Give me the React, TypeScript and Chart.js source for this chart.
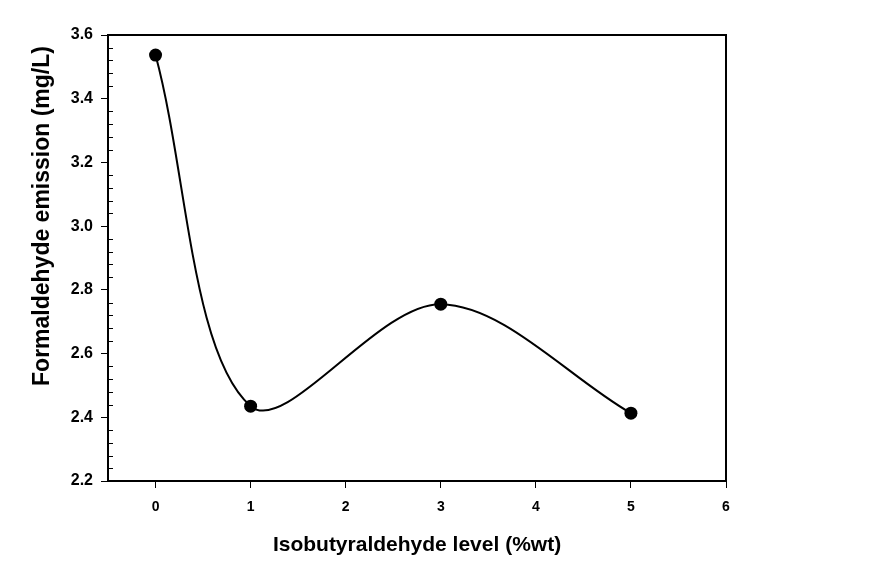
import React, { useEffect, useRef } from "react";
import { Chart, registerables } from "chart.js";

Chart.register(...registerables);

const levels = [0, 1, 3, 5];
const emission = [3.537, 2.435, 2.755, 2.413];
const xTicks = [0, 1, 2, 3, 4, 5, 6];
const yTicks = [2.2, 2.4, 2.6, 2.8, 3.0, 3.2, 3.4, 3.6];
const xTitle = "Isobutyraldehyde level (%wt)";
const yTitle = "Formaldehyde emission (mg/L)";

const FONT = "'Liberation Sans', Arial, sans-serif";

const framePlugin = {
  id: "frame",
  afterDraw(chart: any) {
    const { ctx, chartArea: a, scales } = chart;
    ctx.save();
    ctx.strokeStyle = "#000";
    ctx.lineWidth = 2;
    ctx.strokeRect(a.left, a.top, a.right - a.left, a.bottom - a.top);
    // minor ticks inside on y axis
    ctx.lineWidth = 1;
    const ys = scales.y;
    for (let i = 0; i < yTicks.length - 1; i++) {
      for (let k = 1; k < 5; k++) {
        const v = yTicks[i] + ((yTicks[i + 1] - yTicks[i]) * k) / 5;
        const py = Math.round(ys.getPixelForValue(v)) + 0.5;
        ctx.beginPath();
        ctx.moveTo(a.left, py);
        ctx.lineTo(a.left + 5, py);
        ctx.stroke();
      }
    }
    // titles
    ctx.fillStyle = "#000";
    ctx.textAlign = "center";
    ctx.textBaseline = "middle";
    ctx.font = `bold 21px ${FONT}`;
    ctx.fillText(xTitle, (a.left + a.right) / 2, 545);
    ctx.font = `bold 23px ${FONT}`;
    ctx.translate(43, 216);
    ctx.rotate(-Math.PI / 2);
    ctx.fillText(yTitle, 0, 0);
    ctx.restore();
  },
};

export default function App() {
  const ref = useRef<HTMLCanvasElement>(null);
  useEffect(() => {
    document.body.style.margin = "0";
    const chart = new Chart(ref.current!, {
      type: "line",
      data: {
        datasets: [
          {
            data: levels.map((x, i) => ({ x, y: emission[i] })),
            borderColor: "#000",
            borderWidth: 2,
            tension: 0.33,
            pointRadius: 6.5,
            pointBackgroundColor: "#000",
            pointBorderColor: "#000",
            pointBorderWidth: 0,
          },
        ],
      },
      options: {
        animation: false,
        responsive: false,
        maintainAspectRatio: false,
        layout: { padding: { top: 35, right: 152, left: 0, bottom: 0 } },
        plugins: { legend: { display: false }, tooltip: { enabled: false } },
        scales: {
          x: {
            type: "linear",
            min: -0.5,
            max: 6,
            afterFit: (s: any) => {
              s.height = 83;
            },
            afterBuildTicks: (s: any) => {
              s.ticks = xTicks.map((v) => ({ value: v }));
            },
            ticks: {
              color: "#000",
              font: { family: FONT, size: 14, weight: "bold" },
              padding: 11,
              maxRotation: 0,
              callback: (v: any) => String(v),
            },
            grid: { drawOnChartArea: false, tickLength: 7, color: "#000", lineWidth: 1 },
            border: { display: false },
          },
          y: {
            type: "linear",
            min: 2.2,
            max: 3.6,
            afterFit: (s: any) => {
              s.width = 108;
            },
            afterBuildTicks: (s: any) => {
              s.ticks = yTicks.map((v) => ({ value: v }));
            },
            ticks: {
              color: "#000",
              font: { family: FONT, size: 16, weight: "bold" },
              padding: 8,
              callback: (v: any) => Number(v).toFixed(1),
            },
            grid: { drawOnChartArea: false, tickLength: 7, color: "#000", lineWidth: 1 },
            border: { display: false },
          },
        },
      },
      plugins: [framePlugin],
    });
    return () => chart.destroy();
  }, []);
  return (
    <div style={{ width: 878, height: 564, background: "#fff" }}>
      <canvas ref={ref} width={878} height={564} style={{ display: "block" }} />
    </div>
  );
}
